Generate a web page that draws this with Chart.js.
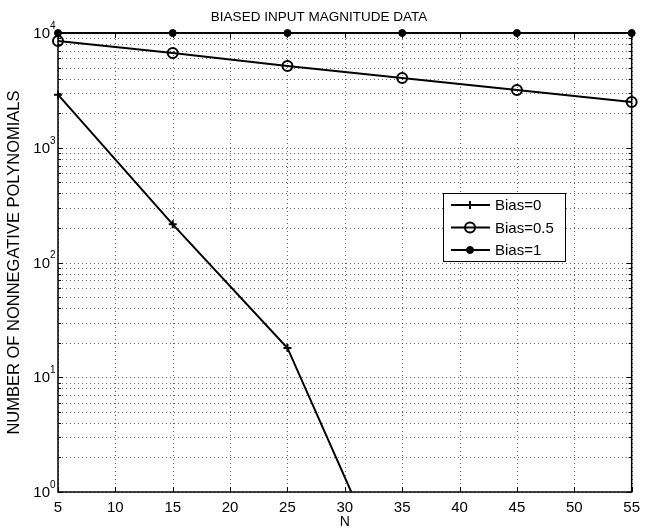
<!DOCTYPE html>
<html>
<head>
<meta charset="utf-8">
<title>Biased input magnitude data</title>
<script src="https://cdn.jsdelivr.net/npm/chart.js@4.4.1/dist/chart.umd.min.js"></script>
<style>
  html, body { margin: 0; padding: 0; background: #fff; }
  #wrap { position: relative; width: 647px; height: 529px; }
</style>
</head>
<body>
<div id="wrap"><canvas id="chart" width="647" height="529"></canvas></div>
<script>
// Data
const nValues = [5, 15, 25, 35, 45, 55];
const bias0 = [2900, 215, 18, 0.1];            // drops below the axis after N=25
const bias05 = [8500, 6700, 5160, 4060, 3190, 2510];
const bias1 = [10000, 10000, 10000, 10000, 10000, 10000];
const seriesNames = ['Bias=0', 'Bias=0.5', 'Bias=1'];
const xTicks = [5, 10, 15, 20, 25, 30, 35, 40, 45, 50, 55];
const yDecades = [0, 1, 2, 3, 4];

const FONT = 'Liberation Sans, Arial, Helvetica, sans-serif';
const gridColor = 'rgba(0, 0, 0, 0.6)';

function toPoints(values) {
  return values.map((v, i) => ({ x: nValues[i], y: v }));
}

// Dotted MATLAB-style grid, drawn from the scales' ticks
const dottedGrid = {
  id: 'dottedGrid',
  beforeDatasetsDraw(chart) {
    const { ctx, chartArea: a, scales: { x, y } } = chart;
    ctx.save();
    ctx.strokeStyle = gridColor;
    ctx.lineWidth = 1;
    ctx.setLineDash([1, 3]);
    ctx.beginPath();
    x.ticks.forEach(t => {
      const px = Math.round(x.getPixelForValue(t.value)) + 0.5;
      ctx.moveTo(px, a.bottom); ctx.lineTo(px, a.top);
    });
    y.ticks.forEach(t => {
      const py = Math.round(y.getPixelForValue(t.value)) + 0.5;
      ctx.moveTo(a.left, py); ctx.lineTo(a.right, py);
    });
    ctx.stroke();
    ctx.restore();
  }
};

// Box, inward ticks, y labels with superscripts, legend
const matlabAxes = {
  id: 'matlabAxes',
  afterDraw(chart) {
    const { ctx, chartArea: a, scales: { x, y } } = chart;
    ctx.save();

    // inward tick marks
    ctx.strokeStyle = '#000';
    ctx.lineWidth = 1;
    ctx.beginPath();
    xTicks.forEach(t => {
      const px = Math.round(x.getPixelForValue(t)) + 0.5;
      ctx.moveTo(px, a.bottom); ctx.lineTo(px, a.bottom - 5);
      ctx.moveTo(px, a.top); ctx.lineTo(px, a.top + 5);
    });
    y.ticks.forEach(t => {
      const major = Math.abs(Math.log10(t.value) % 1) < 1e-9;
      const len = major ? 5 : 3;
      const py = Math.round(y.getPixelForValue(t.value)) + 0.5;
      ctx.moveTo(a.left, py); ctx.lineTo(a.left + len, py);
      ctx.moveTo(a.right, py); ctx.lineTo(a.right - len, py);
    });
    ctx.stroke();

    // box
    ctx.lineWidth = 1.5;
    ctx.strokeRect(a.left, a.top, a.right - a.left, a.bottom - a.top);

    // y tick labels: 10^k
    ctx.fillStyle = '#000';
    yDecades.forEach(k => {
      const py = y.getPixelForValue(Math.pow(10, k));
      ctx.font = '15px ' + FONT;
      ctx.textAlign = 'right';
      ctx.textBaseline = 'middle';
      ctx.fillText('10', a.left - 8, py + 1);
      ctx.font = '10px ' + FONT;
      ctx.textAlign = 'left';
      ctx.fillText(String(k), a.left - 8, py - 7);
    });

    // legend
    const lx = 443, ly = 193, lw = 122, lh = 68;
    ctx.fillStyle = '#fff';
    ctx.fillRect(lx, ly, lw, lh);
    ctx.lineWidth = 1;
    ctx.strokeStyle = '#000';
    ctx.strokeRect(lx + 0.5, ly + 0.5, lw, lh);
    chart.data.datasets.forEach((ds, i) => {
      const ry = ly + 12 + i * 22.5;
      ctx.strokeStyle = '#000';
      ctx.lineWidth = 2;
      ctx.beginPath();
      ctx.moveTo(lx + 8, ry); ctx.lineTo(lx + 47, ry);
      ctx.stroke();
      ctx.fillStyle = ds.pointBackgroundColor;
      ctx.lineWidth = ds.pointBorderWidth;
      Chart.helpers.drawPoint(ctx, {
        pointStyle: ds.pointStyle,
        radius: ds.pointRadius,
        borderWidth: ds.pointBorderWidth
      }, lx + 27, ry);
      ctx.fillStyle = '#000';
      ctx.font = '15px ' + FONT;
      ctx.textAlign = 'left';
      ctx.textBaseline = 'middle';
      ctx.fillText(ds.label, lx + 52, ry + 1);
    });
    ctx.restore();
  }
};

const common = {
  borderColor: '#000',
  borderWidth: 2,
  pointBorderColor: '#000',
  tension: 0
};

new Chart(document.getElementById('chart'), {
  type: 'line',
  data: {
    datasets: [
      {
        ...common,
        label: seriesNames[0],
        data: toPoints(bias0),
        pointStyle: 'cross',
        pointRadius: 4,
        pointBorderWidth: 2,
        pointBackgroundColor: '#000',
        clip: { left: 10, top: 10, right: 10, bottom: 0 }
      },
      {
        ...common,
        label: seriesNames[1],
        data: toPoints(bias05),
        pointStyle: 'circle',
        pointRadius: 5,
        pointBorderWidth: 2,
        pointBackgroundColor: 'rgba(0,0,0,0)',
        clip: false
      },
      {
        ...common,
        label: seriesNames[2],
        data: toPoints(bias1),
        pointStyle: 'circle',
        pointRadius: 3.5,
        pointBorderWidth: 1,
        pointBackgroundColor: '#000',
        clip: false
      }
    ]
  },
  options: {
    responsive: false,
    animation: false,
    layout: { padding: { left: 0, right: 9, top: 0, bottom: 0 } },
    plugins: {
      legend: { display: false },
      tooltip: { enabled: false },
      title: {
        display: true,
        text: 'BIASED INPUT MAGNITUDE DATA',
        color: '#000',
        font: { family: FONT, size: 13.5, weight: 'normal' },
        padding: { top: 9, bottom: 7.8 }
      }
    },
    scales: {
      x: {
        type: 'linear',
        min: 5,
        max: 55,
        afterBuildTicks: scale => { scale.ticks = xTicks.map(v => ({ value: v })); },
        afterFit: scale => { scale.height = 37; },
        ticks: {
          color: '#000',
          font: { family: FONT, size: 15 },
          padding: 7,
          maxRotation: 0,
          autoSkip: false
        },
        grid: { display: false, drawTicks: false },
        border: { display: false },
        title: {
          display: true,
          text: 'N',
          color: '#000',
          font: { family: FONT, size: 14 },
          padding: { top: 0, bottom: -2 }
        }
      },
      y: {
        type: 'logarithmic',
        min: 1,
        max: 10000,
        afterBuildTicks: scale => {
          const t = [];
          for (let k = 0; k < 4; k++) {
            for (let m = 1; m < 10; m++) t.push({ value: m * Math.pow(10, k) });
          }
          t.push({ value: 10000 });
          scale.ticks = t;
        },
        afterFit: scale => { scale.width = 58; },
        ticks: { display: false },
        grid: { display: false, drawTicks: false },
        border: { display: false },
        title: {
          display: true,
          text: 'NUMBER OF NONNEGATIVE POLYNOMIALS',
          color: '#000',
          font: { family: FONT, size: 16.5 },
          padding: { top: 5, bottom: 0 }
        }
      }
    }
  },
  plugins: [dottedGrid, matlabAxes]
});
</script>
</body>
</html>
